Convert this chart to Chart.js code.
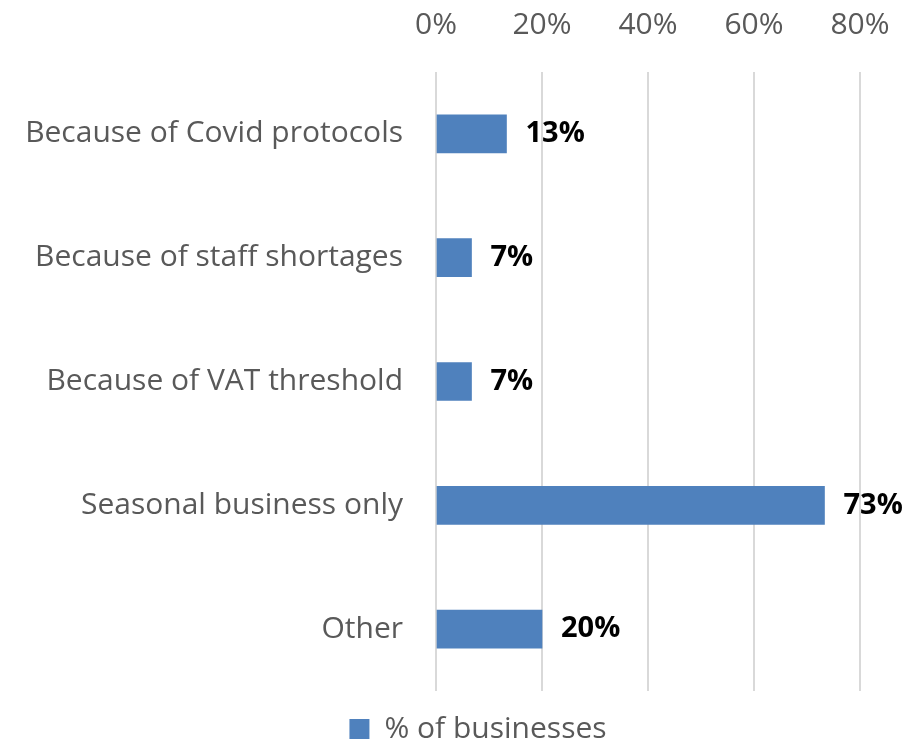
<!DOCTYPE html>
<html>
<head>
<meta charset="utf-8">
<script src="https://cdn.jsdelivr.net/npm/chart.js@4"></script>
<style>
  html, body { margin: 0; padding: 0; background: #fff; }
  #wrap { width: 922px; height: 742px; }
</style>
</head>
<body>
<div id="wrap"><canvas id="barChart"></canvas></div>
<script>
// data
const categories = [
  "Because of Covid protocols",
  "Because of staff shortages",
  "Because of VAT threshold",
  "Seasonal business only",
  "Other"
];
const shareValues = [13.3, 6.7, 6.7, 73.3, 20];
const tickLabels = ["0%", "20%", "40%", "60%", "80%"];
const seriesName = "% of businesses";

const FONT = "'Open Sans', sans-serif";

// draws the bold value next to each bar
const valueLabels = {
  id: "valueLabels",
  afterDatasetsDraw(chart) {
    const ctx = chart.ctx;
    const meta = chart.getDatasetMeta(0);
    ctx.save();
    ctx.font = "bold 29px " + FONT;
    ctx.fillStyle = "#000";
    ctx.textAlign = "left";
    ctx.textBaseline = "middle";
    meta.data.forEach(function (bar, i) {
      ctx.fillText(Math.round(shareValues[i]) + "%", bar.x + 19, bar.y);
    });
    ctx.restore();
  }
};

// legend sits right of centre in the original
const legendNudge = {
  id: "legendNudge",
  afterLayout(chart) {
    chart.legend.left += 48;
    chart.legend.right += 48;
  }
};

const config = {
  type: "bar",
  data: {
    labels: categories,
    datasets: [
      {
        label: seriesName,
        data: shareValues,
        backgroundColor: "#4F81BD",
        borderWidth: 0,
        barThickness: 38
      }
    ]
  },
  options: {
    indexAxis: "y",
    responsive: true,
    maintainAspectRatio: false,
    animation: false,
    layout: { padding: { left: 0, right: 62, top: 0, bottom: -32 } },
    plugins: {
      legend: {
        position: "bottom",
        labels: {
          boxWidth: 20,
          boxHeight: 20,
          color: "#595959",
          font: { family: FONT, size: 30 },
          padding: 23
        }
      },
      tooltip: { enabled: false }
    },
    scales: {
      x: {
        position: "top",
        min: 0,
        max: 80,
        ticks: {
          stepSize: 20,
          color: "#595959",
          font: { family: FONT, size: 30 },
          padding: 29,
          callback: function (v, i) { return tickLabels[i]; }
        },
        grid: { color: "#D9D9D9", lineWidth: 2, drawTicks: false },
        border: { display: false },
        afterFit: function (axis) { axis.height = 72; }
      },
      y: {
        ticks: {
          color: "#595959",
          font: { family: FONT, size: 30 },
          padding: 33
        },
        grid: { display: false, drawTicks: false },
        border: { display: false },
        afterFit: function (axis) { axis.width = 436; }
      }
    }
  },
  plugins: [valueLabels, legendNudge]
};

const ctx = document.getElementById("barChart").getContext("2d");
const myBarChart = new Chart(ctx, config);
</script>
</body>
</html>
